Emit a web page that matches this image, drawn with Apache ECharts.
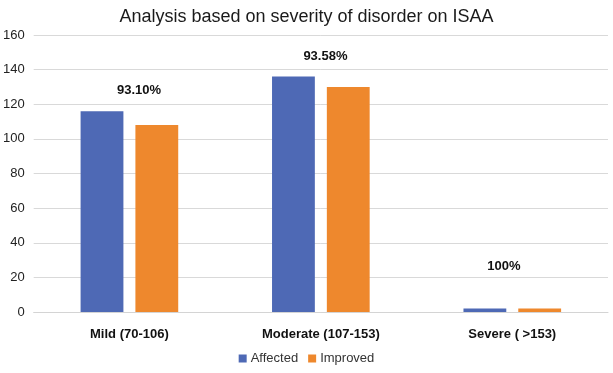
<!DOCTYPE html>
<html><head><meta charset="utf-8">
<script src="https://cdn.jsdelivr.net/npm/echarts@6/dist/echarts.min.js"></script>
<style>html,body{margin:0;padding:0;background:#fff}#c{width:613px;height:373px}</style>
</head><body><div id="c"></div>
<script>
const categories = ['Mild (70-106)', 'Moderate (107-153)', 'Severe ( >153)'];
const affected = [116, 136, 2];
const improved = [108, 130, 2];
const percentLabels = ['93.10%', '93.58%', '100%'];
const yTicks = [0, 20, 40, 60, 80, 100, 120, 140, 160];

const labelOffsets = [[37, -9], [32, -9], [19, -31]];
const chart = echarts.init(document.getElementById('c'));
chart.setOption({
  backgroundColor: '#fff',
  textStyle: { fontFamily: 'Liberation Sans, Arial, sans-serif' },
  title: {
    text: 'Analysis based on severity of disorder on ISAA',
    left: 'center', top: 3,
    textStyle: { fontSize: 18, fontWeight: 'normal', color: '#1a1a1a', fontFamily: 'Liberation Sans' }
  },
  legend: {
    bottom: 3, left: 'center',
    itemWidth: 8, itemHeight: 8, itemGap: 10,
    icon: 'rect',
    textStyle: { fontSize: 13, color: '#333', padding: [0, 0, 0, -1] },
    data: ['Affected', 'Improved']
  },
  grid: { left: 33, right: 5, top: 35, bottom: 61, containLabel: false },
  xAxis: {
    type: 'category', data: categories,
    axisTick: { show: false },
    axisLine: { lineStyle: { color: '#d4d4d4', width: 1 } },
    axisLabel: { fontSize: 13, fontWeight: 'bold', color: '#111', margin: 16 }
  },
  yAxis: {
    type: 'value', min: yTicks[0], max: yTicks[yTicks.length - 1], interval: yTicks[1] - yTicks[0],
    axisLine: { show: false }, axisTick: { show: false },
    splitLine: { lineStyle: { color: '#d9d9d9', width: 1 } },
    axisLabel: { fontSize: 13, color: '#222', margin: 9 }
  },
  series: [
    {
      name: 'Affected', type: 'bar', barGap: '28%', barCategoryGap: '49%',
      itemStyle: { color: '#4E69B5' },
      data: affected.map((v, i) => ({
        value: v,
        label: {
          show: true, position: 'top', formatter: percentLabels[i],
          offset: labelOffsets[i], fontSize: 13, fontWeight: 'bold', color: '#111'
        }
      }))
    },
    {
      name: 'Improved', type: 'bar',
      itemStyle: { color: '#EE882D' },
      data: improved
    }
  ]
});
</script></body></html>
